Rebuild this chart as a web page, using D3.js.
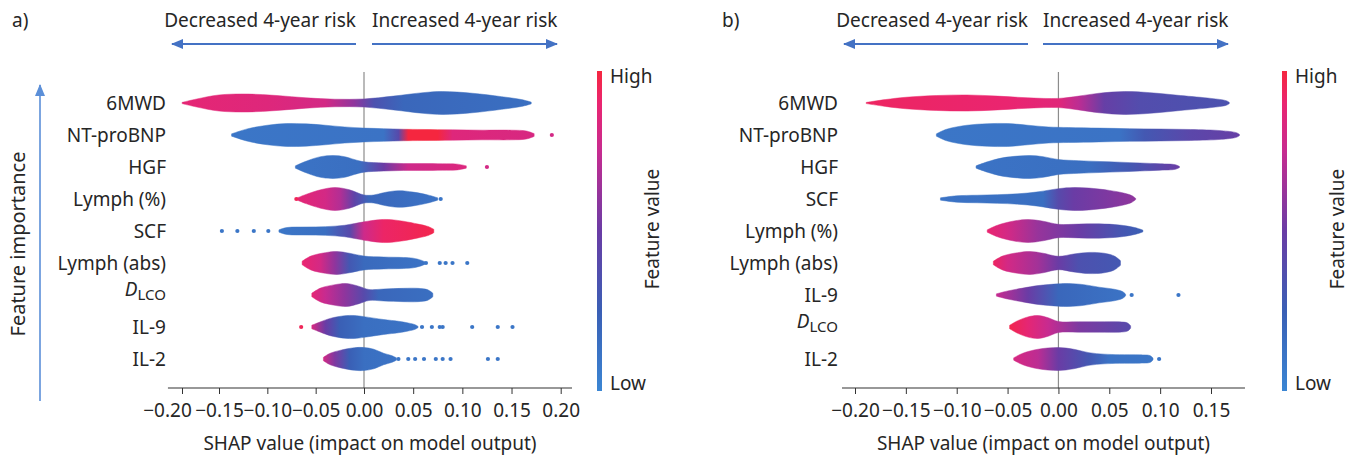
<!DOCTYPE html>
<html><head><meta charset="utf-8">
<script src="https://cdn.jsdelivr.net/npm/d3@7"></script>
<style>
body{margin:0;background:#fff;}
svg text{font-family:"Noto Sans",sans-serif;fill:#262626;}
</style></head><body>
<svg id="chart" width="1359" height="457"></svg>
<script>
// ---------------- DATA ----------------
const featuresA = ["6MWD","NT-proBNP","HGF","Lymph (%)","SCF","Lymph (abs)","DLCO","IL-9","IL-2"];
const featuresB = ["6MWD","NT-proBNP","HGF","SCF","Lymph (%)","Lymph (abs)","IL-9","DLCO","IL-2"];
const ticksA = [-0.20,-0.15,-0.10,-0.05,0.00,0.05,0.10,0.15,0.20];
const ticksB = [-0.20,-0.15,-0.10,-0.05,0.00,0.05,0.10,0.15];
const xlimA = [-0.219, 0.2115];
const xlimB = [-0.2128, 0.1834];
const colourbarLabels = ["Low","High"];
const axisTitle = "SHAP value (impact on model output)";

// violin outlines: [SHAP value, relative density]
const densityA = [
  [[-0.20,0.05],[-0.18,0.35],[-0.15,0.7],[-0.12,0.78],[-0.09,0.65],[-0.06,0.45],[-0.03,0.33],[0.00,0.35],[0.03,0.6],[0.06,0.9],[0.08,1.0],[0.11,0.85],[0.14,0.55],[0.16,0.3],[0.17,0.08]],
  [[-0.137,0.1],[-0.12,0.55],[-0.10,0.85],[-0.08,1.0],[-0.06,0.97],[-0.04,0.85],[-0.02,0.7],[0.00,0.6],[0.02,0.55],[0.04,0.5],[0.06,0.48],[0.09,0.45],[0.12,0.42],[0.15,0.42],[0.165,0.35],[0.173,0.12]],
  [[-0.071,0.1],[-0.06,0.5],[-0.045,0.9],[-0.032,1.0],[-0.02,0.9],[-0.01,0.65],[0.00,0.45],[0.02,0.35],[0.04,0.3],[0.06,0.3],[0.08,0.28],[0.095,0.25],[0.104,0.1]],
  [[-0.069,0.1],[-0.06,0.4],[-0.045,0.8],[-0.03,1.0],[-0.015,0.8],[0.00,0.35],[0.01,0.35],[0.02,0.55],[0.035,0.72],[0.05,0.6],[0.065,0.35],[0.075,0.1]],
  [[-0.088,0.1],[-0.08,0.3],[-0.06,0.35],[-0.04,0.38],[-0.02,0.5],[0.00,0.8],[0.015,0.98],[0.025,1.0],[0.04,0.85],[0.055,0.6],[0.065,0.4],[0.071,0.15]],
  [[-0.064,0.15],[-0.055,0.6],[-0.04,0.9],[-0.028,1.0],[-0.015,0.85],[0.00,0.6],[0.02,0.52],[0.04,0.48],[0.05,0.42],[0.058,0.25],[0.062,0.1]],
  [[-0.054,0.15],[-0.045,0.6],[-0.03,0.9],[-0.018,1.0],[-0.005,0.75],[0.005,0.48],[0.02,0.52],[0.04,0.58],[0.055,0.58],[0.065,0.45],[0.07,0.15]],
  [[-0.054,0.15],[-0.045,0.45],[-0.035,0.75],[-0.02,0.98],[-0.01,1.0],[0.00,0.9],[0.02,0.65],[0.035,0.5],[0.045,0.35],[0.052,0.2],[0.055,0.05]],
  [[-0.042,0.15],[-0.035,0.5],[-0.025,0.75],[-0.01,0.98],[0.00,1.0],[0.01,0.85],[0.02,0.5],[0.028,0.3],[0.033,0.1]]
];
// mean feature value along each violin: [SHAP value, feature value 0 (low) .. 1 (high)]
const colourA = [
  [[-0.20,0.88],[-0.10,0.85],[-0.04,0.8],[-0.01,0.6],[0.01,0.35],[0.04,0.2],[0.17,0.15]],
  [[-0.14,0.1],[0.02,0.12],[0.035,0.4],[0.045,1.0],[0.075,1.0],[0.09,0.85],[0.175,0.82]],
  [[-0.071,0.12],[-0.005,0.15],[0.02,0.5],[0.045,0.78],[0.104,0.84]],
  [[-0.07,0.88],[-0.04,0.8],[-0.025,0.7],[-0.01,0.45],[0.005,0.2],[0.078,0.12]],
  [[-0.088,0.1],[-0.04,0.15],[-0.015,0.4],[0.00,0.78],[0.02,0.92],[0.071,0.97]],
  [[-0.064,0.9],[-0.045,0.8],[-0.03,0.6],[-0.015,0.3],[0.00,0.18],[0.062,0.12]],
  [[-0.054,0.88],[-0.04,0.75],[-0.02,0.6],[0.00,0.4],[0.015,0.2],[0.07,0.15]],
  [[-0.054,0.82],[-0.04,0.5],[-0.025,0.25],[0.00,0.15],[0.055,0.12]],
  [[-0.042,0.8],[-0.03,0.55],[-0.015,0.25],[0.00,0.15],[0.033,0.12]]
];
// individual outlying points: [SHAP value, feature value]
const dotsA = [
  [],
  [[0.191,0.8]],
  [[0.125,0.8]],
  [[-0.07,0.95],[0.078,0.1]],
  [[-0.147,0.1],[-0.131,0.1],[-0.114,0.1],[-0.099,0.1]],
  [[0.063,0.1],[0.077,0.1],[0.083,0.1],[0.09,0.1],[0.105,0.1]],
  [],
  [[-0.065,0.95],[0.059,0.1],[0.069,0.1],[0.077,0.1],[0.08,0.1],[0.11,0.1],[0.136,0.1],[0.151,0.1]],
  [[0.035,0.1],[0.045,0.1],[0.052,0.1],[0.061,0.1],[0.073,0.1],[0.08,0.1],[0.088,0.1],[0.126,0.1],[0.136,0.1]]
];

const densityB = [
  [[-0.189,0.05],[-0.17,0.3],[-0.15,0.5],[-0.12,0.65],[-0.09,0.7],[-0.06,0.6],[-0.03,0.45],[0.00,0.4],[0.02,0.6],[0.04,0.85],[0.065,1.0],[0.09,0.9],[0.12,0.65],[0.15,0.4],[0.165,0.2],[0.168,0.05]],
  [[-0.12,0.1],[-0.11,0.5],[-0.09,0.85],[-0.07,0.98],[-0.05,1.0],[-0.03,0.85],[-0.01,0.7],[0.01,0.65],[0.04,0.6],[0.07,0.55],[0.10,0.52],[0.13,0.48],[0.16,0.38],[0.175,0.2],[0.178,0.05]],
  [[-0.081,0.1],[-0.07,0.45],[-0.055,0.8],[-0.04,0.95],[-0.028,1.0],[-0.015,0.9],[0.00,0.65],[0.02,0.55],[0.04,0.48],[0.06,0.42],[0.08,0.35],[0.10,0.28],[0.115,0.2],[0.119,0.05]],
  [[-0.116,0.1],[-0.10,0.28],[-0.08,0.33],[-0.06,0.38],[-0.04,0.45],[-0.02,0.62],[0.00,0.9],[0.015,1.0],[0.03,0.95],[0.05,0.75],[0.065,0.5],[0.072,0.3],[0.076,0.05]],
  [[-0.07,0.1],[-0.06,0.5],[-0.045,0.85],[-0.03,1.0],[-0.015,0.85],[0.00,0.58],[0.02,0.6],[0.04,0.62],[0.06,0.52],[0.075,0.3],[0.083,0.08]],
  [[-0.064,0.15],[-0.055,0.6],[-0.04,0.9],[-0.028,1.0],[-0.015,0.85],[0.00,0.58],[0.015,0.78],[0.03,0.92],[0.045,0.85],[0.055,0.6],[0.061,0.2]],
  [[-0.061,0.1],[-0.05,0.35],[-0.035,0.6],[-0.02,0.82],[0.00,0.97],[0.01,1.0],[0.025,0.9],[0.04,0.68],[0.055,0.5],[0.063,0.3],[0.066,0.08]],
  [[-0.048,0.15],[-0.04,0.55],[-0.03,0.88],[-0.02,1.0],[-0.01,0.8],[0.00,0.48],[0.02,0.45],[0.04,0.45],[0.06,0.45],[0.068,0.35],[0.071,0.1]],
  [[-0.044,0.1],[-0.035,0.5],[-0.02,0.85],[0.00,1.0],[0.015,0.85],[0.03,0.55],[0.045,0.42],[0.06,0.38],[0.08,0.36],[0.09,0.3],[0.093,0.08]]
];
const colourB = [
  [[-0.189,0.93],[-0.05,0.9],[0.00,0.86],[0.02,0.72],[0.045,0.48],[0.08,0.38],[0.168,0.34]],
  [[-0.12,0.1],[0.06,0.12],[0.085,0.3],[0.13,0.42],[0.178,0.48]],
  [[-0.081,0.12],[0.03,0.15],[0.07,0.3],[0.119,0.5]],
  [[-0.116,0.12],[-0.015,0.15],[0.00,0.4],[0.015,0.5],[0.076,0.6]],
  [[-0.07,0.9],[-0.05,0.8],[-0.02,0.62],[0.02,0.5],[0.06,0.32],[0.083,0.25]],
  [[-0.064,0.93],[-0.05,0.8],[-0.02,0.65],[0.00,0.5],[0.02,0.35],[0.061,0.3]],
  [[-0.061,0.75],[-0.03,0.5],[0.00,0.2],[0.066,0.12]],
  [[-0.048,0.97],[-0.03,0.88],[-0.01,0.75],[0.02,0.55],[0.071,0.4]],
  [[-0.044,0.82],[-0.02,0.72],[0.00,0.5],[0.03,0.3],[0.05,0.12],[0.093,0.1]]
];
const dotsB = [
  [],[],[],[],[],[],
  [[0.072,0.1],[0.118,0.1]],
  [],
  [[0.099,0.1]]
];

// ---------------- DRAW ----------------
const FS = 19;
const svg = d3.select("#chart");
const defs = svg.append("defs");
const colour = d3.scaleLinear()
  .domain([0, 0.25, 0.5, 0.75, 0.9, 1])
  .range(["#3b86d3", "#3a5fb5", "#6a3ca5", "#c72b90", "#ea2570", "#f5263f"]);
const arrowBlue = "#4472c4";

defs.append("marker").attr("id","ah").attr("viewBox","0 0 12 10")
  .attr("refX",11).attr("refY",5).attr("markerWidth",12).attr("markerHeight",10)
  .attr("markerUnits","userSpaceOnUse").attr("orient","auto")
  .append("path").attr("d","M0,0L12,5L0,10Z").attr("fill",arrowBlue);
defs.append("marker").attr("id","ah2").attr("viewBox","0 0 12 10")
  .attr("refX",11).attr("refY",5).attr("markerWidth",12).attr("markerHeight",10)
  .attr("markerUnits","userSpaceOnUse").attr("orient","auto")
  .append("path").attr("d","M0,0L12,5L0,10Z").attr("fill","#5b8fd8");

function panel(cfg) {
  const g = svg.append("g");
  const x = cfg.x;
  const y = d3.scalePoint().domain(cfg.features).range([103, 359]);
  const w = d3.scaleLinear().domain([0, 1]).range([0, 11.5]);
  const axisY = 388;

  // headings
  g.append("text").attr("x", cfg.letterX).attr("y", 27).attr("font-size", FS).text(cfg.letter);
  g.append("text").attr("x", cfg.decEnd).attr("y", 27).attr("font-size", FS)
    .attr("text-anchor","end").text("Decreased 4-year risk");
  g.append("text").attr("x", cfg.incStart).attr("y", 27).attr("font-size", FS)
    .text("Increased 4-year risk");
  g.append("line").attr("x1", cfg.decEnd).attr("x2", cfg.decEnd - 184).attr("y1", 44).attr("y2", 44)
    .attr("stroke", arrowBlue).attr("stroke-width", 2).attr("marker-end","url(#ah)");
  g.append("line").attr("x1", cfg.incStart).attr("x2", cfg.incStart + 185).attr("y1", 44).attr("y2", 44)
    .attr("stroke", arrowBlue).attr("stroke-width", 2).attr("marker-end","url(#ah)");

  // zero line
  g.append("line").attr("x1", x(0)).attr("x2", x(0)).attr("y1", 72).attr("y2", axisY)
    .attr("stroke", "#8c8c8c").attr("stroke-width", 1.2);

  // axis
  const ax = g.append("g").attr("transform", `translate(0,${axisY})`)
    .call(d3.axisBottom(x).tickValues(cfg.ticks).tickFormat(d3.format(".2f"))
      .tickSize(6).tickSizeOuter(0).tickPadding(10));
  ax.select(".domain").remove();
  ax.attr("font-size", FS).attr("font-family", '"Noto Sans", sans-serif');
  ax.selectAll(".tick line").attr("stroke", "#333");
  ax.selectAll(".tick text").attr("fill", "#262626");
  if (cfg.firstLabelShift) ax.selectAll(".tick text").filter((d, i) => i === 0).attr("dx", cfg.firstLabelShift);
  g.append("line").attr("x1", x(cfg.xlim[0])).attr("x2", x(cfg.xlim[1]))
    .attr("y1", axisY).attr("y2", axisY).attr("stroke", "#333").attr("stroke-width", 1.2);
  g.append("text").attr("x", (x(cfg.xlim[0]) + x(cfg.xlim[1])) / 2).attr("y", 450)
    .attr("font-size", FS).attr("text-anchor", "middle").text(axisTitle);

  // feature labels
  cfg.features.forEach(f => {
    const t = g.append("text").attr("x", cfg.labelX).attr("y", y(f)).attr("dy", "0.35em")
      .attr("font-size", FS).attr("text-anchor", "end");
    if (f === "DLCO") {
      t.append("tspan").attr("font-style", "italic").attr("dy", "0.05em").text("D");
      t.append("tspan").attr("font-size", 15).attr("dy", "0.3em").text("LCO");
    } else t.text(f);
  });

  // violins
  const area = d3.area()
    .x(d => x(d[0]))
    .y0(d => -w(d[1]))
    .y1(d => w(d[1]))
    .curve(d3.curveCatmullRom.alpha(0.5));
  cfg.features.forEach((f, i) => {
    const cols = cfg.colours[i];
    const x1 = x(cols[0][0]), x2 = x(cols[cols.length - 1][0]);
    const id = `grad${cfg.letter[0]}${i}`;
    const grad = defs.append("linearGradient").attr("id", id)
      .attr("gradientUnits", "userSpaceOnUse")
      .attr("x1", x1).attr("x2", x2).attr("y1", 0).attr("y2", 0);
    cols.forEach(c => grad.append("stop")
      .attr("offset", (x(c[0]) - x1) / (x2 - x1))
      .attr("stop-color", colour(c[1])));
    const vg = g.append("g").attr("transform", `translate(0,${y(f)})`);
    vg.append("path").datum(cfg.density[i]).attr("d", area)
      .attr("fill", `url(#${id})`).attr("stroke", `url(#${id})`).attr("stroke-width", 0.8)
      .attr("stroke-opacity", 0.6);
    vg.selectAll("circle").data(cfg.dots[i]).join("circle")
      .attr("cx", d => x(d[0])).attr("cy", 0).attr("r", 2.1)
      .attr("fill", d => colour(d[1]));
  });

  // colour bar
  const cbId = `cb${cfg.letter[0]}`;
  const cb = defs.append("linearGradient").attr("id", cbId)
    .attr("x1", 0).attr("x2", 0).attr("y1", 1).attr("y2", 0);
  d3.range(0, 1.0001, 0.05).forEach(v => cb.append("stop").attr("offset", v).attr("stop-color", colour(v)));
  const cy = d3.scaleLinear().domain([0, 1]).range([391, 71]);
  g.append("rect").attr("x", cfg.cbX).attr("width", 5).attr("y", cy(1)).attr("height", cy(0) - cy(1))
    .attr("fill", `url(#${cbId})`);
  g.append("text").attr("x", cfg.cbX + 13).attr("y", cy(1) + 5).attr("dy", "0.35em").attr("font-size", FS)
    .text(colourbarLabels[1]);
  g.append("text").attr("x", cfg.cbX + 13).attr("y", cy(0) - 8).attr("dy", "0.35em").attr("font-size", FS)
    .text(colourbarLabels[0]);
  g.append("text").attr("transform", `translate(${cfg.cbX + 55},${(cy(0) + cy(1)) / 2 - 2}) rotate(-90)`)
    .attr("text-anchor", "middle").attr("dy", "0.35em").attr("font-size", FS).text("Feature value");
}

panel({
  letter: "a)", letterX: 12, decEnd: 356, incStart: 372,
  features: featuresA, ticks: ticksA, xlim: xlimA,
  x: d3.scaleLinear().domain([-0.20, -0.15, 0, 0.20]).range([182, 219, 364, 560.7]),
  labelX: 166, density: densityA, colours: colourA, dots: dotsA, cbX: 597, firstLabelShift: -15
});
panel({
  letter: "b)", letterX: 722, decEnd: 1028, incStart: 1043,
  features: featuresB, ticks: ticksB, xlim: xlimB,
  x: d3.scaleLinear().domain([-0.20, 0.15]).range([855, 1211]),
  labelX: 838, density: densityB, colours: colourB, dots: dotsB, cbX: 1282, firstLabelShift: 0
});

// feature importance arrow (panel a)
svg.append("line").attr("x1", 40).attr("x2", 40).attr("y1", 401).attr("y2", 85)
  .attr("stroke", "#5b8fd8").attr("stroke-width", 1.6).attr("marker-end", "url(#ah2)");
svg.append("text").attr("transform", "translate(18,244) rotate(-90)").attr("text-anchor", "middle")
  .attr("dy", "0.35em").attr("font-size", 20).text("Feature importance");
</script>
</body></html>
